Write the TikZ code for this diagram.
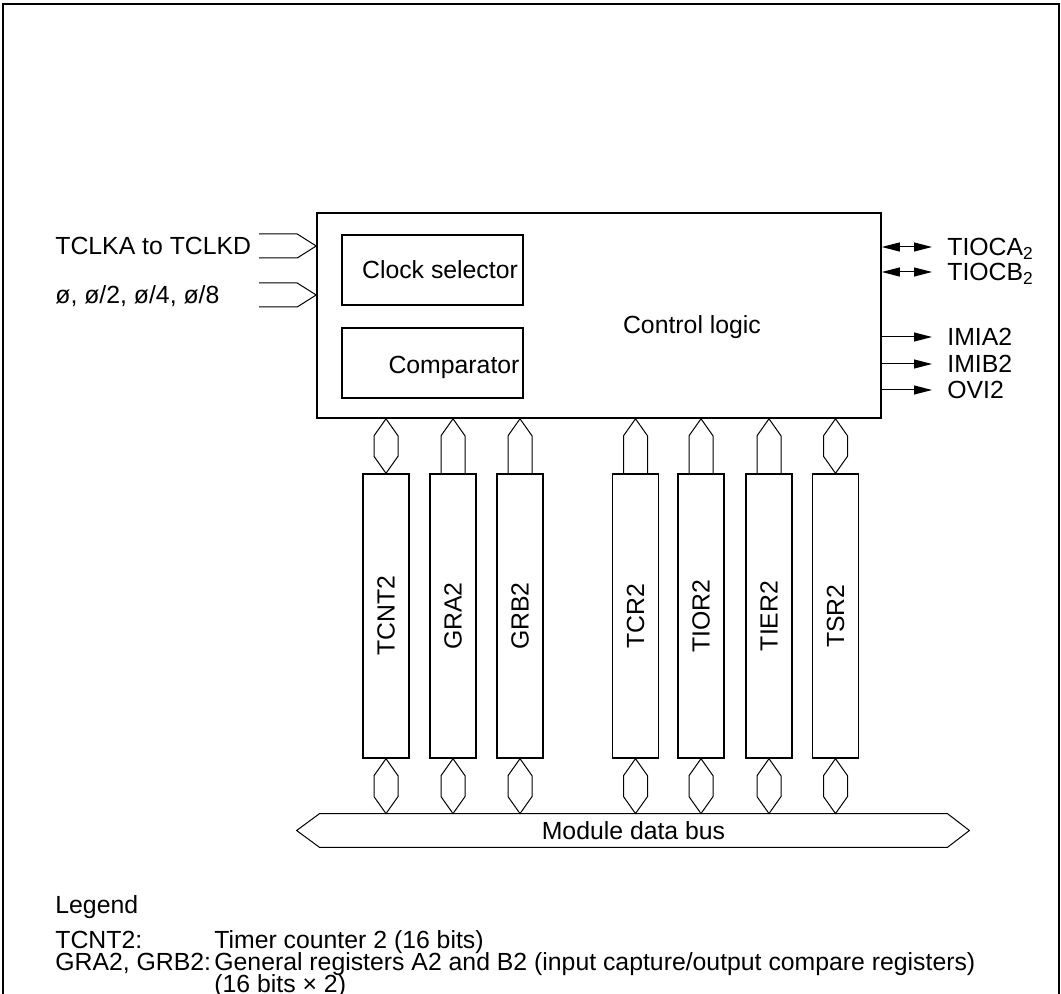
\documentclass[tikz,border=0pt]{standalone}
\usepackage{fontspec}
\setmainfont{Liberation Sans}
\usetikzlibrary{arrows.meta,calc,positioning}
\tikzset{
  box/.style={draw,line width=0.7pt,minimum width=90.5pt,minimum height=35pt,
              inner sep=0pt,text height=8.9pt,text depth=0pt},
  reg/.style={draw,line width=0.7pt,minimum width=23pt,minimum height=142pt,inner sep=0pt},
  lnk/.style={line width=0.5pt,line join=miter},
  arr/.style={-{Triangle[length=9pt,width=4.5pt]},line width=0.5pt,shorten >=7.5pt},
  darr/.style={{Triangle[length=9pt,width=4.5pt]}-{Triangle[length=9pt,width=4.5pt]},
               line width=0.5pt,shorten >=7.5pt},
  lbl/.style={anchor=west,inner sep=0pt,text height=8.9pt,text depth=0pt}
}
% hexagon between two points on one vertical
\newcommand{\hexlink}[2]{%
  \draw[lnk] (#1) -- ($(#1)+(12,17)$) -- ($(#2)+(12,-17)$) -- (#2)
    -- ($(#2)+(-12,-17)$) -- ($(#1)+(-12,17)$) -- cycle;}
% one-way link pointing up to #1 from the top of a register #2
\newcommand{\uplink}[2]{%
  \draw[lnk] ($(#2)+(-12,0)$) -- ($(#1)+(-12,17)$) -- (#1)
    -- ($(#1)+(12,17)$) -- ($(#2)+(12,0)$);}
% open input chevron ending in #1
\newcommand{\inlink}[1]{%
  \draw[lnk] ($(#1)+(-57,-12)$) -- ($(#1)+(-19,-12)$) -- (#1)
    -- ($(#1)+(-19,12)$) -- ($(#1)+(-57,12)$);}

\begin{document}
\begin{tikzpicture}[x=0.5pt,y=-0.5pt,font=\fontsize{12.4}{14.5}\selectfont]
  \useasboundingbox (0,0) rectangle (1061,994);
  \draw[line width=0.8pt] (3,1010) -- (3,4) -- (1059,4) -- (1059,1010);

  % timer block
  \node[draw,line width=0.8pt,minimum width=282pt,minimum height=102.5pt] (ctrl) at (599,315.5) {};
  \node[box] (clk) at (432.5,270) {};
  \node[box] (cmp) at (432.5,363) {};
  \node[lbl,anchor=center] (clktxt) at (440,270) {Clock selector};
  \node[lbl,anchor=center] (cmptxt) at (454,365) {Comparator};
  \node[lbl,anchor=center] (logic) at (692,325) {Control logic};

  % inputs
  \node[lbl] (tclk) at (55,246) {TCLKA to TCLKD};
  \node[lbl] (phi)  at (55,295) {ø, ø/2, ø/4, ø/8};
  \coordinate (in1) at (ctrl.west |- tclk);
  \coordinate (in2) at (ctrl.west |- phi);
  \inlink{in1}
  \inlink{in2}

  % outputs
  \node[lbl] (tioca) at (947,247) {TIOCA\textsubscript{2}};
  \node[lbl] (tiocb) at (947,272) {TIOCB\textsubscript{2}};
  \node[lbl] (imia)  at (947,337) {IMIA2};
  \node[lbl] (imib)  at (947,364) {IMIB2};
  \node[lbl] (ovi)   at (947,390) {OVI2};
  \draw[darr] (tioca.west -| ctrl.east) -- (tioca.west);
  \draw[darr] (tiocb.west -| ctrl.east) -- (tiocb.west);
  \draw[arr] (imia.west -| ctrl.east) -- (imia.west);
  \draw[arr] (imib.west -| ctrl.east) -- (imib.west);
  \draw[arr] (ovi.west -| ctrl.east) -- (ovi.west);

  % registers
  \node[reg] (r1) at (386,616)   {\rotatebox{90}{TCNT2}};
  \node[reg] (r2) at (453,616)   {\rotatebox{90}{GRA2}};
  \node[reg] (r3) at (520,616)   {\rotatebox{90}{GRB2}};
  \node[reg] (r4) at (635.5,616) {\rotatebox{90}{TCR2}};
  \node[reg] (r5) at (701,616)   {\rotatebox{90}{TIOR2}};
  \node[reg] (r6) at (769,616)   {\rotatebox{90}{TIER2}};
  \node[reg] (r7) at (835.5,616) {\rotatebox{90}{TSR2}};

  % module data bus
  \node[minimum width=313.5pt,minimum height=16.5pt,inner sep=0pt,
        text height=8.9pt,text depth=0pt] (bus) at (633.5,830.5) {Module data bus};
  \draw[lnk] (bus.north west) -- (bus.north east) -- ($(bus.east)+(22,0)$)
    -- (bus.south east) -- (bus.south west) -- ($(bus.west)+(-23,0)$) -- cycle;

  % links to the block
  \foreach \r in {r1,r2,r3,r4,r5,r6,r7}
    \coordinate (t\r) at (\r.north |- ctrl.south);
  \hexlink{tr1}{r1.north}
  \uplink{tr2}{r2.north}
  \uplink{tr3}{r3.north}
  \uplink{tr4}{r4.north}
  \uplink{tr5}{r5.north}
  \uplink{tr6}{r6.north}
  \hexlink{tr7}{r7.north}

  % links to the bus
  \foreach \r in {r1,r2,r3,r4,r5,r6,r7}{
    \coordinate (b\r) at (\r.south |- bus.north);
    \hexlink{\r.south}{b\r}
  }

  % legend
  \node[lbl] (leg) at (55,905) {Legend};
  \node[lbl] (k1) at (55,940)  {TCNT2:};
  \node[lbl] (d1) at (214,940) {Timer counter 2 (16 bits)};
  \node[lbl] (k2) at (55,962)  {GRA2, GRB2:};
  \node[lbl] (d2) at (214,962) {General registers A2 and B2 (input capture/output compare registers)};
  \node[lbl] (d3) at (214,984) {(16 bits × 2)};
\end{tikzpicture}
\end{document}
